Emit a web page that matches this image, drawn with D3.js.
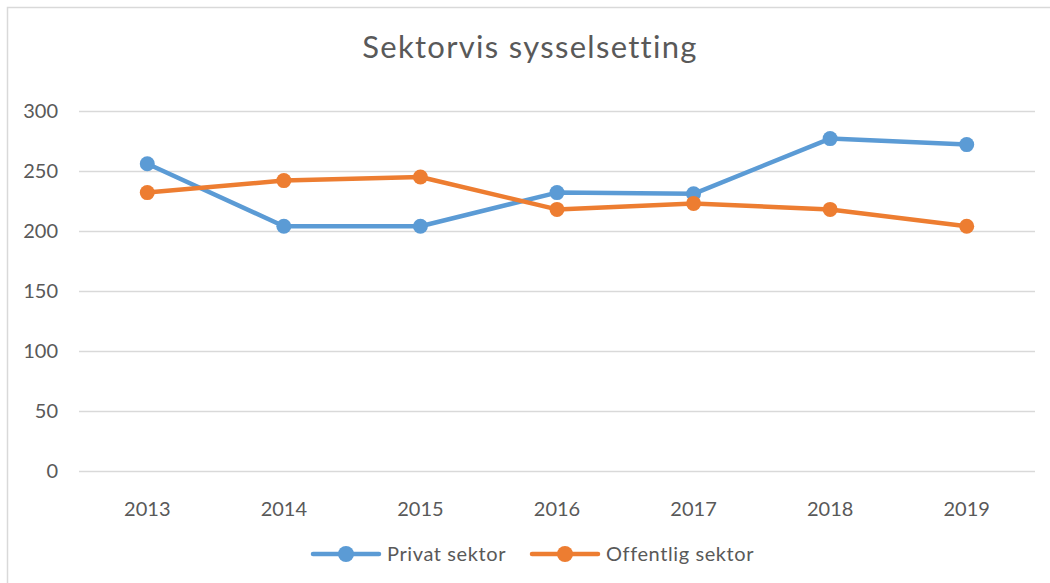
<!DOCTYPE html>
<html>
<head>
<meta charset="utf-8">
<script src="https://cdn.jsdelivr.net/npm/d3@7"></script>
<style>
body { margin: 0; background: #fff; }
text { font-family: Lato, "Open Sans", sans-serif; fill: #595959; }
</style>
</head>
<body>
<div class="chart-container"></div>
<script>
var years = ['2013', '2014', '2015', '2016', '2017', '2018', '2019'];
var privat = [256, 204, 204, 232, 231, 277, 272];
var offentlig = [232, 242, 245, 218, 223, 218, 204];
var yTicks = [0, 50, 100, 150, 200, 250, 300];
var seriesNames = ['Privat sektor', 'Offentlig sektor'];
var seriesColors = ['#5B9BD5', '#ED7D31'];

var W = 1050, H = 583;
var margin = {top: 111, right: 15, bottom: 112, left: 79},
	width = W - margin.left - margin.right,
	height = H - margin.top - margin.bottom;

var svg = d3.select('.chart-container').append('svg')
	.attr('width', W)
	.attr('height', H);

// chart frame
svg.append('rect')
	.attr('x', 7.5).attr('y', 7.5)
	.attr('width', W + 10).attr('height', H + 10)
	.attr('fill', 'none')
	.attr('stroke', '#d9d9d9')
	.attr('stroke-width', 1.5);

svg.append('text')
	.text('Sektorvis sysselsetting')
	.attr('x', 530)
	.attr('y', 58)
	.style('font-size', '31px')
	.style('letter-spacing', '1.3px')
	.style('text-anchor', 'middle');

var g = svg.append('g')
	.attr('transform', 'translate(' + margin.left + ',' + margin.top + ')');

var x = d3.scaleBand().domain(years).range([0, width]);
var y = d3.scaleLinear().domain([0, 300]).range([height, 0]);

var yAxis = d3.axisLeft(y).tickValues(yTicks).tickSize(-width).tickPadding(21);
g.append('g').call(function(a) {
	a.call(yAxis);
	a.select('.domain').remove();
	a.selectAll('.tick line').attr('stroke', '#d9d9d9').attr('stroke-width', 1.5);
	a.selectAll('.tick text').style('font-size', '20px').style('font-family', null).attr('fill', '#595959');
});

var xAxis = d3.axisBottom(x).tickSize(0).tickPadding(31);
g.append('g').attr('transform', 'translate(0,' + height + ')').call(function(a) {
	a.call(xAxis);
	a.select('.domain').remove();
	a.selectAll('.tick text').style('font-size', '20px').style('font-family', null).attr('fill', '#595959');
});

var series = [privat, offentlig];
var line = d3.line()
	.x(function(d, i) { return x(years[i]) + x.bandwidth() / 2; })
	.y(function(d) { return y(d); });

series.forEach(function(vals, s) {
	g.append('path')
		.datum(vals)
		.attr('fill', 'none')
		.attr('stroke', seriesColors[s])
		.attr('stroke-width', 4.5)
		.attr('stroke-linejoin', 'round')
		.attr('d', line);
	g.selectAll('.dot' + s)
		.data(vals)
		.enter().append('circle')
		.attr('class', 'dot' + s)
		.attr('cx', function(d, i) { return x(years[i]) + x.bandwidth() / 2; })
		.attr('cy', function(d) { return y(d); })
		.attr('r', 7.5)
		.attr('fill', seriesColors[s]);
});

// legend
var legendX = [313, 532];
var legend = svg.selectAll('.legend')
	.data(seriesNames)
	.enter().append('g')
	.attr('class', 'legend')
	.attr('transform', function(d, i) { return 'translate(' + legendX[i] + ',554)'; });

legend.append('line')
	.attr('x1', 0).attr('x2', 66)
	.attr('stroke', function(d, i) { return seriesColors[i]; })
	.attr('stroke-width', 4.5)
	.attr('stroke-linecap', 'round');
legend.append('circle')
	.attr('cx', 33)
	.attr('r', 8)
	.attr('fill', function(d, i) { return seriesColors[i]; });
legend.append('text')
	.attr('x', 74)
	.attr('dy', '0.35em')
	.style('font-size', '20px')
	.style('letter-spacing', '0.6px')
	.text(function(d) { return d; });
</script>
</body>
</html>
